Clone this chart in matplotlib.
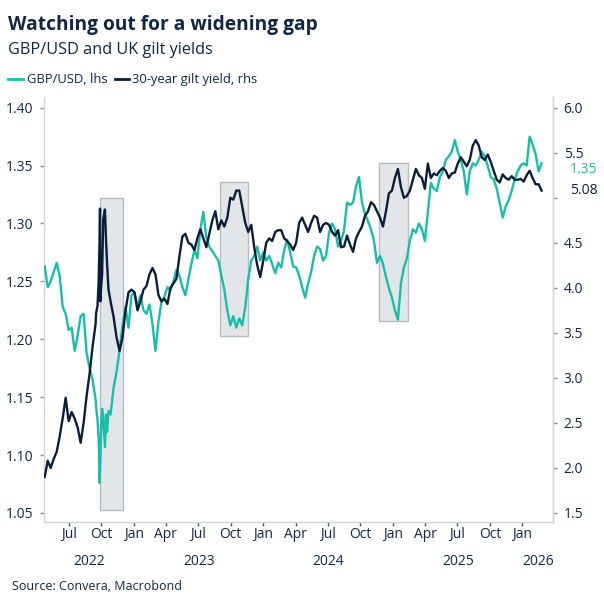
import numpy as np
import pandas as pd
import matplotlib
matplotlib.use("Agg")
import matplotlib.pyplot as plt
import matplotlib.dates as mdates
from matplotlib.patches import Rectangle
from matplotlib.lines import Line2D
from matplotlib.transforms import blended_transform_factory

# =========================================================
# DATA (roughly weekly)
# =========================================================

start_date = "2022-04-24"
end_date = "2026-02-24"

# GBP/USD, lhs
gbp = [
    1.263, 1.245, 1.250, 1.258, 1.266, 1.255, 1.228, 1.222, 1.208, 1.210,
    1.190, 1.203, 1.220, 1.222, 1.188, 1.175, 1.165, 1.148, 1.125, 1.090,
    1.110, 1.125, 1.135, 1.158, 1.172, 1.190, 1.212, 1.228, 1.210, 1.238,
    1.240, 1.228, 1.238, 1.225, 1.222, 1.230, 1.213, 1.190, 1.215, 1.232,
    1.237, 1.245, 1.242, 1.250, 1.260, 1.255, 1.245, 1.238, 1.252, 1.265,
    1.277, 1.270, 1.295, 1.310, 1.288, 1.280, 1.276, 1.272, 1.268, 1.255,
    1.243, 1.225, 1.212, 1.220, 1.210, 1.218, 1.212, 1.228, 1.252, 1.268,
    1.272, 1.280, 1.268, 1.275, 1.268, 1.272, 1.265, 1.257, 1.266, 1.262,
    1.277, 1.286, 1.275, 1.263, 1.262, 1.255, 1.245, 1.236, 1.248, 1.258,
    1.272, 1.280, 1.278, 1.268, 1.272, 1.292, 1.300, 1.295, 1.280, 1.285,
    1.294, 1.318, 1.316, 1.318, 1.332, 1.340, 1.318, 1.308, 1.302, 1.295,
    1.285, 1.266, 1.272, 1.265, 1.254, 1.244, 1.236, 1.225, 1.217, 1.248,
    1.262, 1.270, 1.285, 1.295, 1.292, 1.300, 1.295, 1.285, 1.310, 1.335,
    1.330, 1.328, 1.340, 1.345, 1.355, 1.358, 1.362, 1.372, 1.362, 1.355,
    1.345, 1.325, 1.345, 1.352, 1.350, 1.355, 1.362, 1.358, 1.350, 1.340,
    1.338, 1.330, 1.318, 1.305, 1.315, 1.320, 1.328, 1.338, 1.345, 1.350,
    1.352, 1.350, 1.375, 1.368, 1.360, 1.345, 1.352,
]

# 30-year gilt yield, rhs
gilt = [
    1.90, 2.08, 2.00, 2.10, 2.18, 2.35, 2.55, 2.78, 2.52, 2.62,
    2.55, 2.45, 2.28, 2.50, 2.80, 3.05, 3.35, 3.60, 3.80, 4.30,
    4.60, 4.10, 3.85, 3.68, 3.45, 3.30, 3.45, 3.75, 3.95, 3.98,
    3.95, 3.75, 3.85, 3.98, 4.02, 4.15, 4.22, 4.15, 3.92, 3.85,
    3.88, 3.82, 4.00, 4.05, 4.10, 4.35, 4.57, 4.60, 4.50, 4.48,
    4.42, 4.55, 4.65, 4.55, 4.45, 4.60, 4.75, 4.85, 4.65, 4.75,
    4.68, 4.78, 5.00, 4.98, 5.08, 5.08, 4.90, 4.72, 4.62, 4.70,
    4.45, 4.25, 4.12, 4.30, 4.50, 4.55, 4.52, 4.62, 4.64, 4.64,
    4.55, 4.52, 4.48, 4.42, 4.50, 4.72, 4.78, 4.70, 4.62, 4.72,
    4.80, 4.78, 4.62, 4.70, 4.72, 4.70, 4.62, 4.58, 4.64, 4.45,
    4.46, 4.58, 4.48, 4.40, 4.55, 4.62, 4.68, 4.80, 4.85, 4.95,
    4.92, 4.85, 4.78, 4.68, 4.85, 5.05, 5.08, 5.22, 5.32, 5.12,
    5.00, 5.02, 5.08, 5.20, 5.32, 5.25, 5.22, 5.10, 5.38, 5.22,
    5.27, 5.25, 5.30, 5.33, 5.30, 5.22, 5.27, 5.28, 5.38, 5.45,
    5.40, 5.35, 5.42, 5.58, 5.64, 5.58, 5.45, 5.42, 5.48, 5.40,
    5.30, 5.20, 5.17, 5.26, 5.22, 5.20, 5.24, 5.20, 5.20, 5.21,
    5.18, 5.25, 5.30, 5.22, 5.15, 5.15, 5.08,
]

# finer readings around the September/October 2022 mini-budget spike
crisis_dates = [
    "2022-09-16", "2022-09-20", "2022-09-23", "2022-09-26", "2022-09-27",
    "2022-09-28", "2022-09-30", "2022-10-03", "2022-10-06", "2022-10-11",
    "2022-10-14", "2022-10-17", "2022-10-21",
]
crisis_gbp = [1.142, 1.130, 1.115, 1.076, 1.085, 1.095, 1.120,
              1.140, 1.132, 1.107, 1.135, 1.120, 1.138]
crisis_gilt = [3.72, 3.80, 4.05, 4.55, 4.88, 3.85, 4.00,
               4.15, 4.76, 4.87, 4.53, 4.27, 3.98]

# shaded episodes: start, end, low, high (lhs units)
box_start = ["2022-09-27", "2023-08-31", "2024-11-23"]
box_end = ["2022-12-02", "2023-11-19", "2025-02-11"]
box_low = [1.0526, 1.2031, 1.2158]
box_high = [1.3220, 1.3361, 1.3520]

# =========================================================
# BUILD SERIES
# =========================================================

dates = pd.date_range(start_date, end_date, periods=len(gbp))
df = pd.DataFrame({"gbp": gbp, "gilt": gilt}, index=dates)

crisis = pd.DataFrame(
    {"gbp": crisis_gbp, "gilt": crisis_gilt},
    index=pd.to_datetime(crisis_dates)
)
window = (df.index >= crisis.index[0]) & (df.index <= crisis.index[-1])
df = pd.concat([df[~window], crisis]).sort_index()

last_gbp = round(df["gbp"].iloc[-1], 2)
last_gilt = round(df["gilt"].iloc[-1], 2)

# =========================================================
# STYLE
# =========================================================

plt.rcParams["font.family"] = ["Open Sans", "DejaVu Sans"]

NAVY = "#0a1e3a"
TEAL = "#17bfab"
TEXT = "#0e2747"
SPINE = "#d2d5d8"
TICK = "#8d9399"

fig = plt.figure(figsize=(6.04, 6.04), dpi=100)
ax = fig.add_axes([44 / 604, 82 / 604, 509.3 / 604, 425 / 604])
ax2 = ax.twinx()

# =========================================================
# PLOT
# =========================================================

for s, e, lo, hi in zip(box_start, box_end, box_low, box_high):
    x0 = mdates.date2num(pd.Timestamp(s))
    x1 = mdates.date2num(pd.Timestamp(e))
    ax.add_patch(Rectangle(
        (x0, lo), x1 - x0, hi - lo,
        facecolor="#e3e6e9", edgecolor="#b7bcc1", linewidth=1.0, zorder=1
    ))

ax.plot(df.index, df["gbp"], color=TEAL, linewidth=1.7, zorder=3)
ax2.plot(df.index, df["gilt"], color=NAVY, linewidth=1.7, zorder=3)

# =========================================================
# AXES
# =========================================================

ax.set_xlim(pd.Timestamp("2022-04-22"), pd.Timestamp("2026-03-29"))
ax.set_ylim(1.0422, 1.4092)
ax2.set_ylim(1.40, 6.119)

lhs_ticks = np.arange(1.05, 1.401, 0.05)
ax.set_yticks(lhs_ticks)
ax.set_yticklabels([f"{v:.2f}" for v in lhs_ticks])

# the 5.0 label sits under the 5.08 end label in the original, so it is left blank
rhs_ticks = np.arange(1.5, 6.01, 0.5)
ax2.set_yticks(rhs_ticks)
ax2.set_yticklabels(["" if abs(v - 5.0) < 1e-9 else f"{v:.1f}"
                     for v in rhs_ticks])

ax.xaxis.set_major_locator(mdates.MonthLocator(bymonth=[1, 4, 7, 10]))
ax.xaxis.set_major_formatter(mdates.DateFormatter("%b"))
ax.xaxis.set_minor_locator(mdates.MonthLocator(bymonth=1))

ax.tick_params(axis="y", direction="out", length=3, width=1, color=TICK,
               labelcolor=TEXT, labelsize=10, pad=4.5)
ax2.tick_params(axis="y", direction="out", length=3, width=1, color=TICK,
                labelcolor=TEXT, labelsize=10, pad=4.5)
ax.tick_params(axis="x", which="major", direction="out", length=2.6,
               width=1, color="#555b62", labelcolor=TEXT, labelsize=10,
               pad=1.2)
ax.tick_params(axis="x", which="minor", direction="out", length=3.8,
               width=1, color="#555b62")

for a in (ax, ax2):
    a.spines["top"].set_visible(False)
    for side in ("left", "right", "bottom"):
        a.spines[side].set_color(SPINE)
        a.spines[side].set_linewidth(1)
ax2.spines["left"].set_visible(False)
ax2.spines["bottom"].set_visible(False)

# year labels under the month labels, centred on the visible part of each year
xmin, xmax = ax.get_xlim()
trans = blended_transform_factory(ax.transData, ax.transAxes)
for year in range(2022, 2027):
    y0 = max(mdates.date2num(pd.Timestamp(f"{year}-01-01")), xmin)
    y1 = min(mdates.date2num(pd.Timestamp(f"{year + 1}-01-01")), xmax)
    ax.text((y0 + y1) / 2, -0.0934, str(year), transform=trans,
            ha="center", va="center", fontsize=10, color=TEXT)

# last-value labels on the right
end_trans_l = blended_transform_factory(ax.transAxes, ax.transData)
end_trans_r = blended_transform_factory(ax2.transAxes, ax2.transData)
ax2.text(1.033, last_gilt, f"{last_gilt:.2f}",
         transform=end_trans_r, ha="left", va="center", fontsize=10,
         color=NAVY, clip_on=False, zorder=10)
ax2.annotate(f"{last_gbp:.2f}", xy=(1.033, last_gbp), xycoords=end_trans_l,
             xytext=(0, -2.5), textcoords="offset points",
             ha="left", va="center", fontsize=10, color=TEAL,
             annotation_clip=False, zorder=10)

# =========================================================
# TITLES, LEGEND, SOURCE
# =========================================================

fig.text(8 / 604, 1 - 30 / 604, "Watching out for a widening gap",
         fontsize=13.8, fontweight="bold", color=TEXT, va="baseline")
fig.text(8 / 604, 1 - 54 / 604, "GBP/USD and UK gilt yields",
         fontsize=11.7, color=TEXT, va="baseline")

fig.add_artist(Line2D([8 / 604, 23 / 604], [1 - 79 / 604, 1 - 79 / 604],
                      color=TEAL, linewidth=2, transform=fig.transFigure))
fig.text(27.5 / 604, 1 - 83.3 / 604, "GBP/USD, lhs",
         fontsize=9.4, color=TEXT, va="baseline")
fig.add_artist(Line2D([115 / 604, 128.5 / 604], [1 - 79 / 604, 1 - 79 / 604],
                      color=NAVY, linewidth=2, transform=fig.transFigure))
fig.text(132 / 604, 1 - 83.3 / 604, "30-year gilt yield, rhs",
         fontsize=9.4, color=TEXT, va="baseline")

fig.text(12 / 604, 1 - 590 / 604, "Source: Convera, Macrobond",
         fontsize=9, color=TEXT, va="baseline")

fig.savefig("out.png", dpi=100, facecolor="white")
